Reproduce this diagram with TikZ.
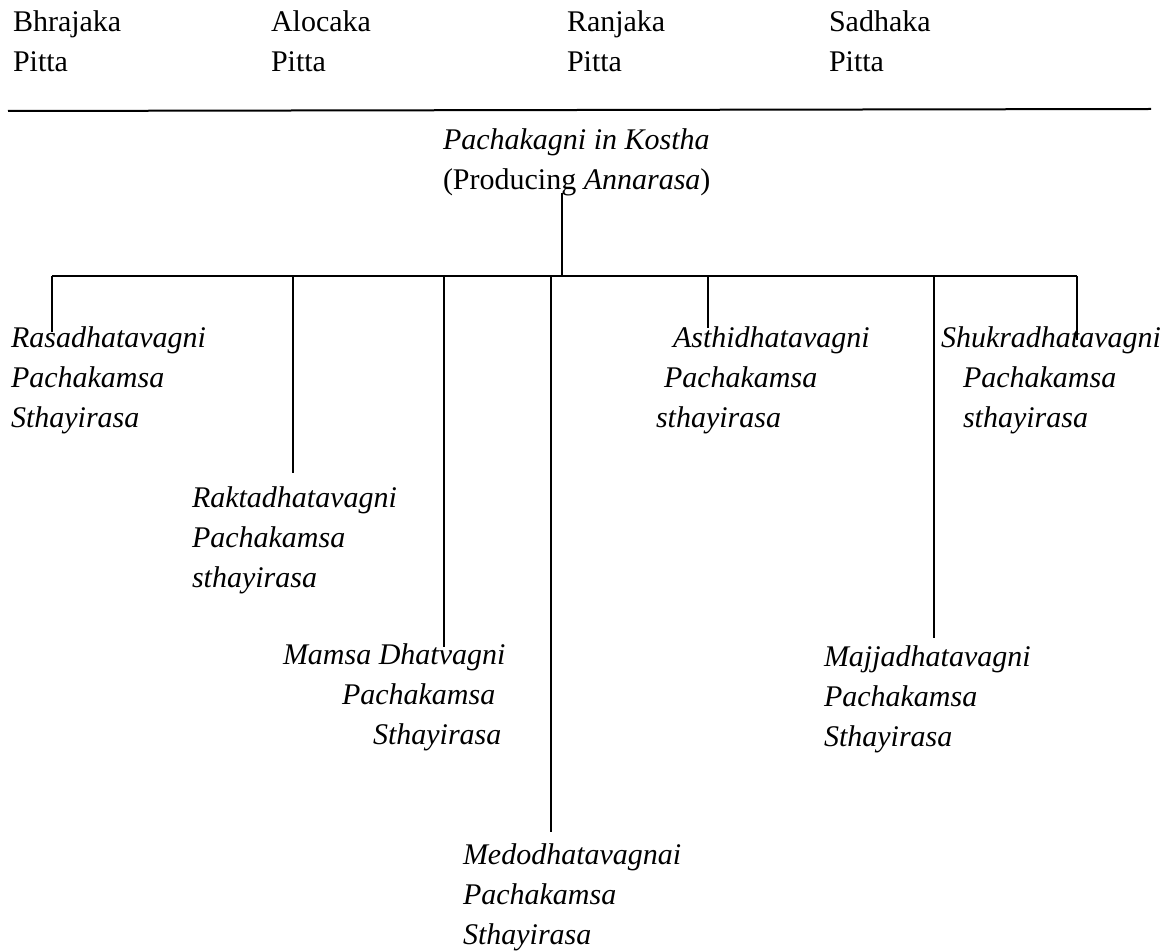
\documentclass[tikz,border=0pt]{standalone}
\usepackage{fontspec}
\setmainfont{Liberation Serif}
\usetikzlibrary{positioning}

\begin{document}
\begin{tikzpicture}[x=0.4pt,y=-0.4pt,line width=0.8pt,
  pitta/.style={inner sep=0pt,anchor=base west,align=left,font=\fontsize{12}{16}\selectfont},
  agni/.style={inner sep=0pt,anchor=base west,align=left,font=\fontsize{12}{16}\selectfont\itshape}]
\useasboundingbox (0,0) rectangle (1169,952);
% nodes sit on the baseline of their last line
\node[pitta] (bhr) at (12,72) {Bhrajaka\\Pitta};
\node[pitta] (alo) at (270,72) {Alocaka\\Pitta};
\node[pitta] (ran) at (566,72) {Ranjaka\\Pitta};
\node[pitta] (sad) at (828,72) {Sadhaka\\Pitta};
\coordinate (ruleL) at (8,111);
\coordinate (ruleR) at (1151,109);
\draw (ruleL) -- (ruleR);
\node[pitta] (kostha) at (442,190)
{\textit{Pachakagni in Kostha}\\(Producing \textit{Annarasa})};
\coordinate (stem) at (562,193);
\coordinate (hub) at (562,276);
\coordinate (busL) at (52,276);
\coordinate (busR) at (1077,276);
\draw (stem) -- (hub);
\draw (busL) -- (busR);
\node[agni] (rasa) at (10,428)
{Rasadhatavagni\\Pachakamsa\\Sthayirasa};
\node[agni] (rakta) at (191,588)
{Raktadhatavagni\\Pachakamsa\\sthayirasa};
\node[agni] (mamsa) at (282,745)
{Mamsa Dhatvagni\\\hspace*{23.6pt}Pachakamsa\\\hspace*{36pt}Sthayirasa};
\node[agni] (medo) at (462,945)
{Medodhatavagnai\\Pachakamsa\\Sthayirasa};
\node[agni] (asthi) at (655,428)
{\hspace*{6.8pt}Asthidhatavagni\\\hspace*{3.2pt}Pachakamsa\\sthayirasa};
\node[agni] (majja) at (823,747)
{Majjadhatavagni\\Pachakamsa\\Sthayirasa};
\node[agni] (shukra) at (940,428)
{Shukradhatavagni\\\hspace*{8.8pt}Pachakamsa\\\hspace*{8.8pt}sthayirasa};
% drops from the bus
\coordinate (jRakta) at (293,276);
\coordinate (jMamsa) at (444,276);
\coordinate (jMedo) at (551,276);
\coordinate (jAsthi) at (708,276);
\coordinate (jMajja) at (934,276);
\coordinate (eRasa) at (52,332);
\coordinate (eRakta) at (293,473);
\coordinate (eMamsa) at (444,647);
\coordinate (eMedo) at (551,832);
\coordinate (eAsthi) at (708,328);
\coordinate (eMajja) at (934,638);
\coordinate (eShukra) at (1077,340);
\draw (busL) -- (eRasa);
\draw (jRakta) -- (eRakta);
\draw (jMamsa) -- (eMamsa);
\draw (jMedo) -- (eMedo);
\draw (jAsthi) -- (eAsthi);
\draw (jMajja) -- (eMajja);
\draw (busR) -- (eShukra);
\end{tikzpicture}
\end{document}
